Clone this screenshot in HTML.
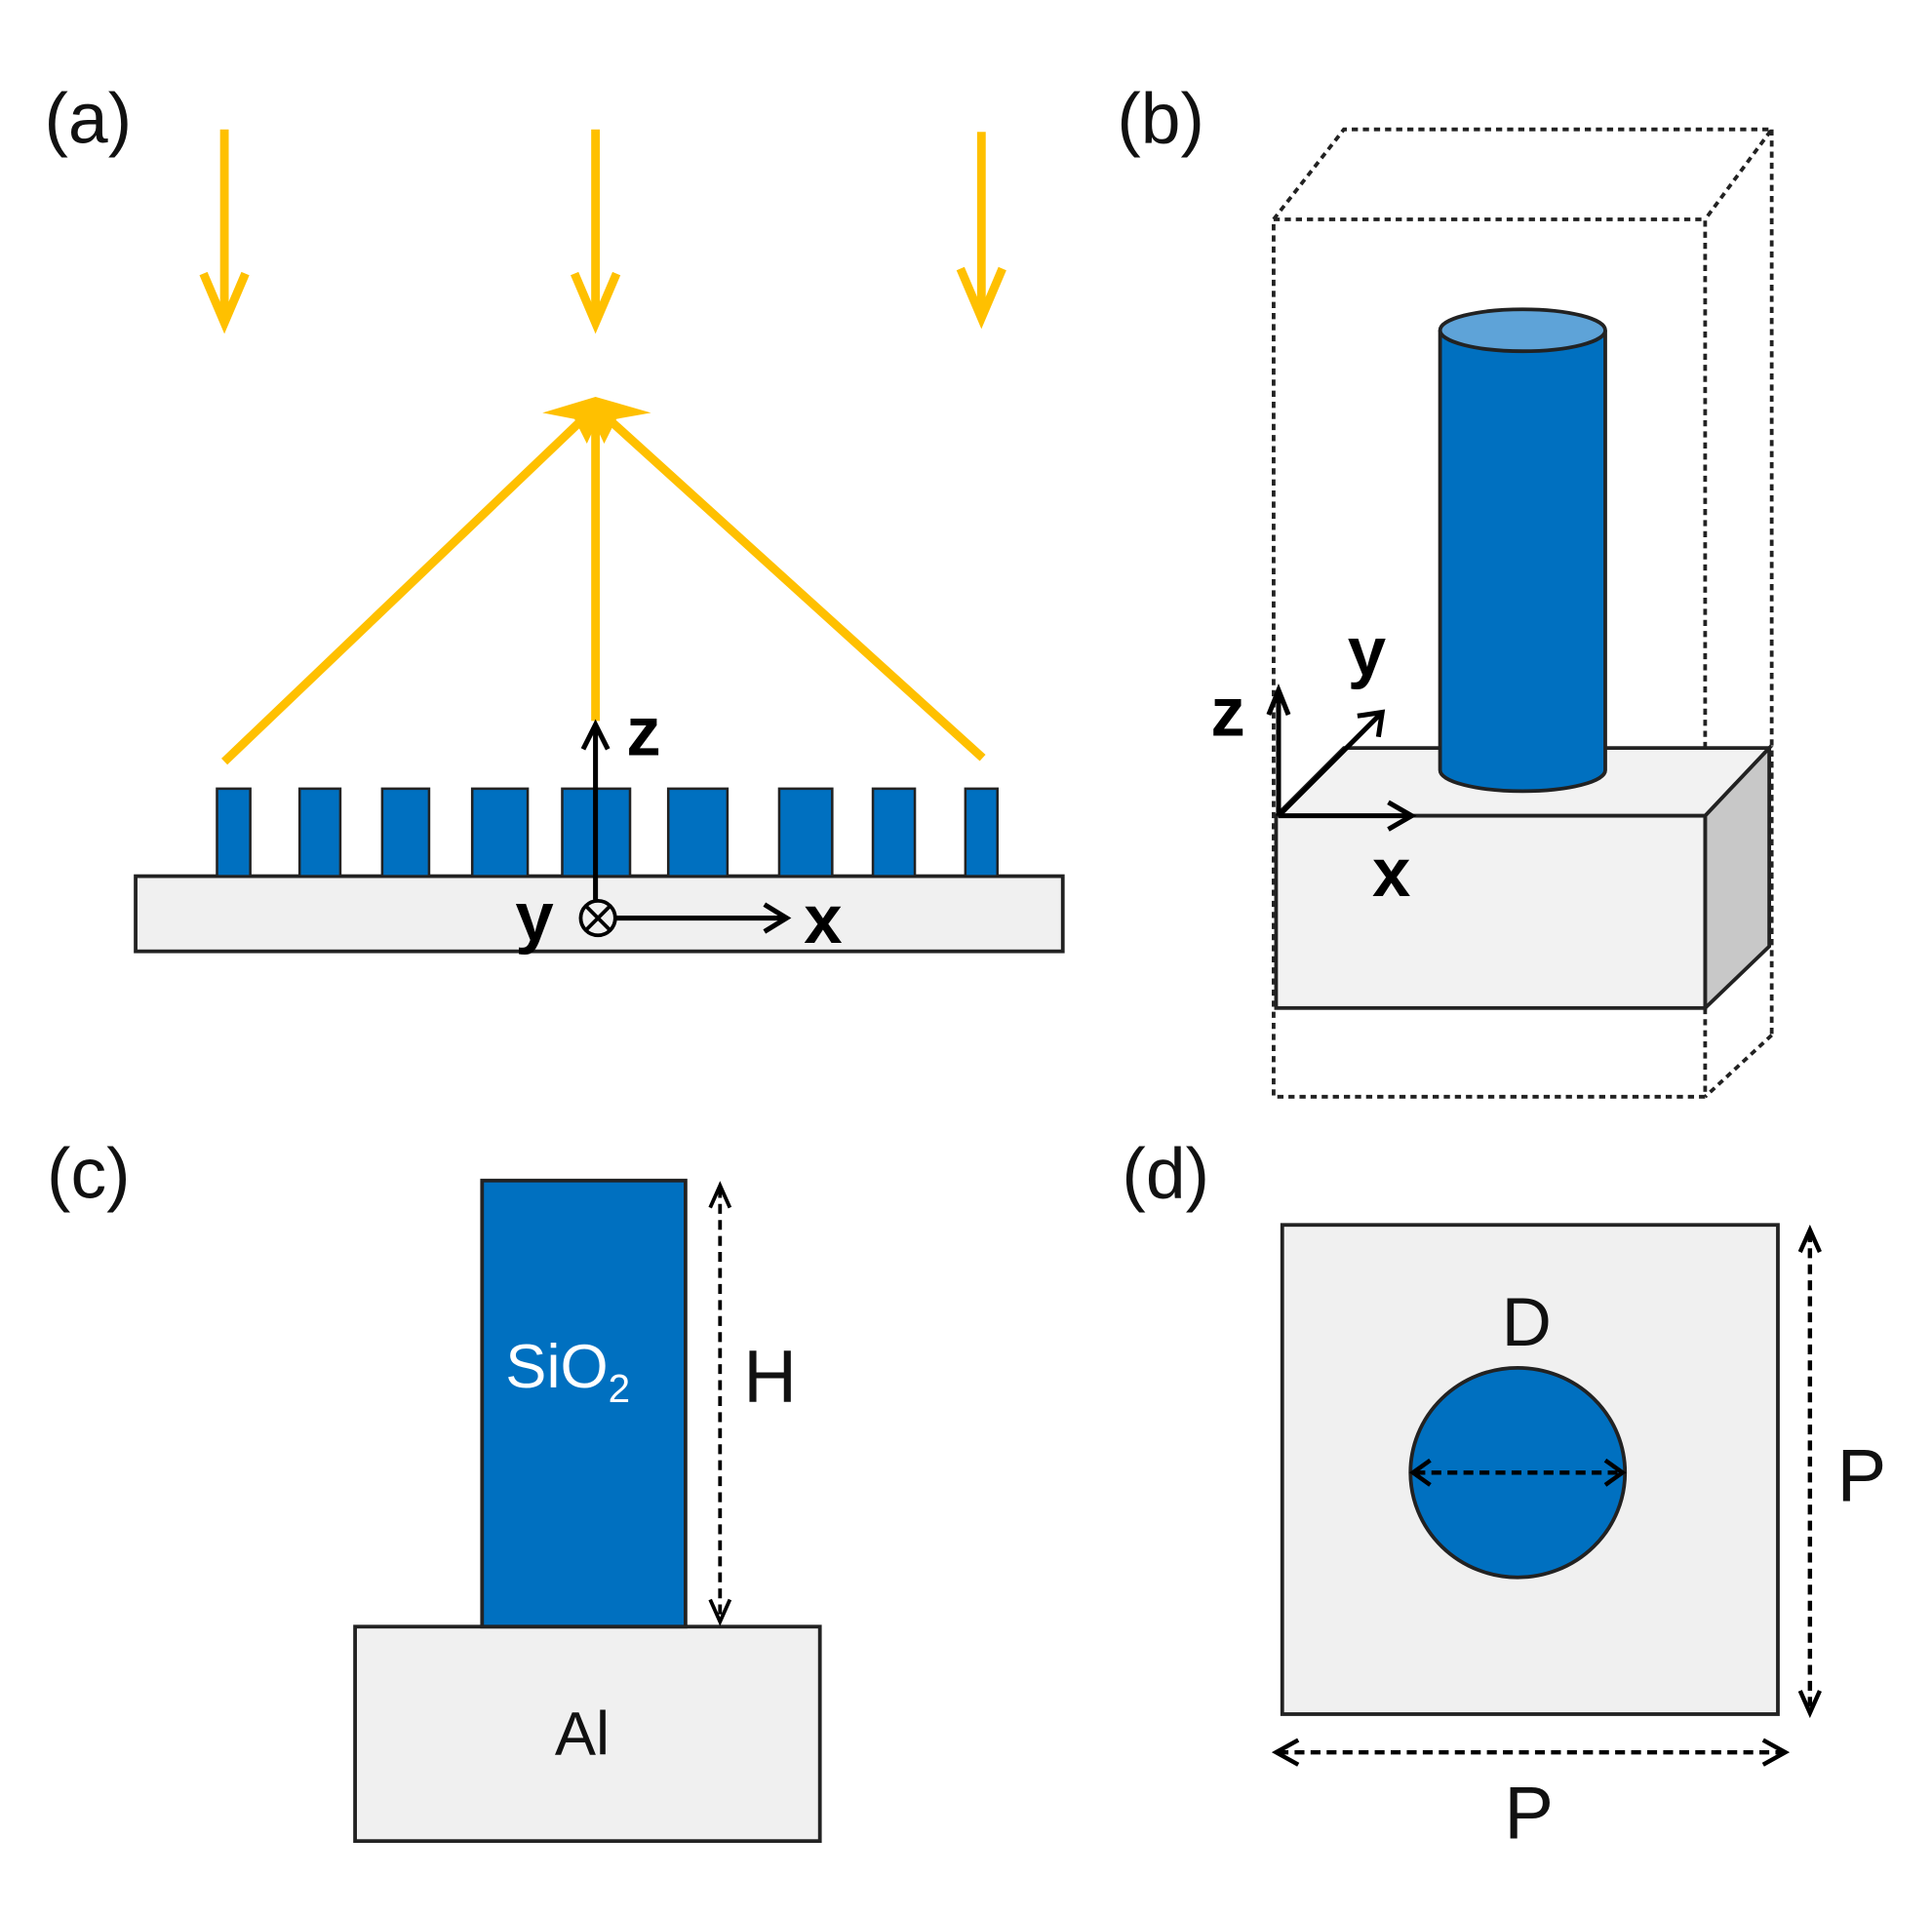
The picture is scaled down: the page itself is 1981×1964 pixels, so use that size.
<!DOCTYPE html>
<html><head><style>html,body{margin:0;padding:0;background:#fff}svg{display:block}</style></head>
<body>
<svg width="1981" height="1964" viewBox="0 0 1567 1554" preserveAspectRatio="none" xmlns="http://www.w3.org/2000/svg" font-family="Liberation Sans, sans-serif">
<g font-size="58" fill="#111">
<text x="36" y="116">(a)</text>
<text x="906" y="116">(b)</text>
<text x="38" y="972">(c)</text>
<text x="910" y="972">(d)</text>
</g>
<!-- (a) incoming arrows -->
<g stroke="#ffc000" stroke-width="7" fill="none">
<line x1="182" y1="105" x2="182" y2="258"/>
<line x1="483" y1="105" x2="483" y2="258"/>
<line x1="796" y1="107" x2="796" y2="255"/>
<polyline points="165,222 182,262 199,222"/>
<polyline points="466,222 483,262 500,222"/>
<polyline points="779,218 796,258 813,218"/>
<line x1="182" y1="618" x2="478" y2="335"/>
<line x1="483" y1="585" x2="483" y2="332"/>
<line x1="797" y1="615" x2="488" y2="335"/>
</g>
<polygon points="483,322 528,335 500,340 490,360 483,345 476,360 466,340 440,335" fill="#ffc000"/>
<!-- substrate & pillars -->
<rect x="110" y="711" width="752" height="61" fill="#f0f0f0" stroke="#222" stroke-width="3"/>
<g fill="#0070c0" stroke="#222" stroke-width="2">
<rect x="176" y="640" width="27" height="71"/>
<rect x="243" y="640" width="33" height="71"/>
<rect x="310" y="640" width="38" height="71"/>
<rect x="383" y="640" width="45" height="71"/>
<rect x="456" y="640" width="55" height="71"/>
<rect x="542" y="640" width="48" height="71"/>
<rect x="632" y="640" width="43" height="71"/>
<rect x="708" y="640" width="34" height="71"/>
<rect x="783" y="640" width="26" height="71"/>
</g>
<g stroke="#000" stroke-width="4" fill="none">
<line x1="483" y1="730" x2="483" y2="590"/>
<polyline points="473,608 483,588 493,608"/>
<circle cx="485" cy="745" r="14" stroke-width="3"/>
<line x1="476" y1="736" x2="494" y2="754" stroke-width="3"/>
<line x1="494" y1="736" x2="476" y2="754" stroke-width="3"/>
<line x1="499" y1="745" x2="636" y2="745"/>
<polyline points="620,734 638,745 620,756"/>
</g>
<g font-weight="bold" font-size="56" fill="#000">
<text x="508" y="613">z</text>
<text x="418" y="763">y</text>
<text x="652" y="765">x</text>
</g>
<!-- (b) -->
<g stroke="#222" stroke-width="3" stroke-dasharray="5,4" fill="none">
<rect x="1033" y="178" width="350" height="712"/>
<polyline points="1033,178 1090,105 1437,105 1383,178"/>
<line x1="1437" y1="105" x2="1437" y2="840"/>
<line x1="1437" y1="840" x2="1383" y2="890"/>
</g>
<polygon points="1035,662 1090,607 1435,607 1383,662" fill="#f2f2f2" stroke="#222" stroke-width="3"/>
<polygon points="1383,662 1435,607 1435,768 1383,818" fill="#c8c8c8" stroke="#222" stroke-width="3"/>
<rect x="1035" y="662" width="348" height="156" fill="#f2f2f2" stroke="#222" stroke-width="3"/>
<path d="M1168,268 L1168,625 A67,17 0 0 0 1302,625 L1302,268" fill="#0070c0" stroke="#222" stroke-width="3"/>
<ellipse cx="1235" cy="268" rx="67" ry="17" fill="#5ea3d8" stroke="#222" stroke-width="3"/>
<g stroke="#000" stroke-width="4" fill="none">
<line x1="1037" y1="662" x2="1037" y2="562"/>
<polyline points="1029,580 1037,560 1045,580"/>
<line x1="1037" y1="662" x2="1143" y2="662"/>
<polyline points="1126,651 1145,662 1126,673"/>
<line x1="1037" y1="662" x2="1120" y2="579"/>
<polyline points="1101,581 1121,578 1118,598"/>
</g>
<g font-weight="bold" font-size="56" fill="#000">
<text x="982" y="597">z</text>
<text x="1093" y="548">y</text>
<text x="1113" y="727">x</text>
</g>
<!-- (c) -->
<rect x="288" y="1320" width="377" height="174" fill="#f0f0f0" stroke="#222" stroke-width="3"/>
<rect x="391" y="958" width="165" height="362" fill="#0070c0" stroke="#222" stroke-width="3"/>
<text x="410" y="1126" font-size="50" fill="#fff">SiO<tspan font-size="32" dy="12">2</tspan></text>
<text x="450" y="1424" font-size="50" fill="#111">Al</text>
<g stroke="#000" stroke-width="3" fill="none">
<line x1="584" y1="964" x2="584" y2="1314" stroke-dasharray="8,5"/>
<polyline points="576,980 584,962 592,980"/>
<polyline points="576,1298 584,1316 592,1298"/>
</g>
<text x="603" y="1138" font-size="60" fill="#111">H</text>
<!-- (d) -->
<rect x="1040" y="994" width="402" height="397" fill="#f0f0f0" stroke="#222" stroke-width="3"/>
<ellipse cx="1231" cy="1195" rx="87" ry="85" fill="#0070c0" stroke="#222" stroke-width="3"/>
<text x="1218" y="1092" font-size="56" fill="#111">D</text>
<g stroke="#000" stroke-width="3.5" fill="none">
<line x1="1148" y1="1195" x2="1314" y2="1195" stroke-dasharray="8,5"/>
<polyline points="1160,1185 1146,1195 1160,1205"/>
<polyline points="1302,1185 1316,1195 1302,1205"/>
<line x1="1468" y1="1000" x2="1468" y2="1386" stroke-dasharray="8,5"/>
<polyline points="1460,1016 1468,998 1476,1016"/>
<polyline points="1460,1372 1468,1390 1476,1372"/>
<line x1="1037" y1="1422" x2="1446" y2="1422" stroke-dasharray="8,5"/>
<polyline points="1053,1412 1035,1422 1053,1432"/>
<polyline points="1430,1412 1448,1422 1430,1432"/>
</g>
<text x="1490" y="1218" font-size="60" fill="#111">P</text>
<text x="1220" y="1492" font-size="60" fill="#111">P</text>
</svg>
</body></html>
